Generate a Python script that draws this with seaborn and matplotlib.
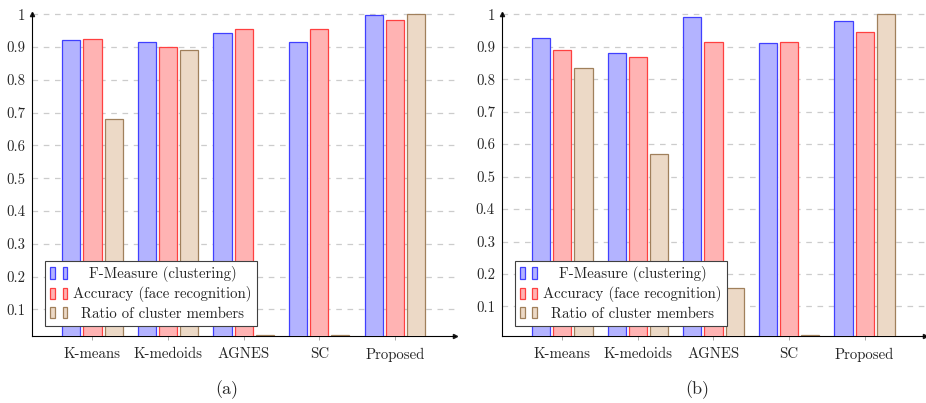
import pandas as pd
import seaborn as sns
from matplotlib import pyplot as plt
from matplotlib.patches import Patch
from matplotlib.legend_handler import HandlerTuple

methods = ["K-means", "K-medoids", "AGNES", "SC", "Proposed"]
series = ["F-Measure (clustering)", "Accuracy (face recognition)", "Ratio of cluster members"]

# panel (a)
fmeasure_a = [0.923, 0.915, 0.944, 0.914, 0.997]
accuracy_a = [0.924, 0.899, 0.954, 0.956, 0.984]
ratio_a = [0.681, 0.892, 0.021, 0.021, 1.0]

# panel (b)
fmeasure_b = [0.928, 0.881, 0.992, 0.910, 0.979]
accuracy_b = [0.890, 0.868, 0.914, 0.916, 0.946]
ratio_b = [0.833, 0.570, 0.158, 0.011, 1.0]

yticks = [0.1, 0.2, 0.3, 0.4, 0.5, 0.6, 0.7, 0.8, 0.9, 1.0]
ytick_labels = ["0.1", "0.2", "0.3", "0.4", "0.5", "0.6", "0.7", "0.8", "0.9", "1"]

fills = ["#b3b3ff", "#ffb3b3", "#ecd9c6"]
edges = ["#4040ff", "#ff4040", "#a0805c"]

sns.set_theme(style="white")
plt.rcParams['font.family'] = ['cmr10', 'DejaVu Serif']
plt.rcParams['axes.formatter.use_mathtext'] = True
plt.rcParams['font.size'] = 10.7


def make_df(f, a, r):
    rows = []
    for vals, name in zip([f, a, r], series):
        for m, v in zip(methods, vals):
            rows.append({"method": m, "value": v, "series": name})
    return pd.DataFrame(rows)


fig = plt.figure(figsize=(9.26, 4.03), dpi=100)
ax_a = fig.add_axes([0.0346, 0.1655, 0.457, 0.8015])
ax_b = fig.add_axes([0.542, 0.1655, 0.457, 0.8015])

panels = [(ax_a, make_df(fmeasure_a, accuracy_a, ratio_a), 0.018, "(a)", 0.245),
          (ax_b, make_df(fmeasure_b, accuracy_b, ratio_b), 0.008, "(b)", 0.753)]

legends = []
for ax, df, ymin, cap, capx in panels:
    sns.barplot(data=df, x="method", y="value", hue="series", order=methods,
                hue_order=series, palette=fills, saturation=1, width=0.84, gap=0.14,
                linewidth=0.9, ax=ax, legend=False, zorder=3)
    for cont, ec in zip(ax.containers, edges):
        for p in cont:
            p.set_edgecolor(ec)
    ax.set_xlim(-0.8, 4.8)
    ax.set_ylim(ymin, 1.003)
    ax.set_yticks(yticks)
    ax.set_yticklabels(ytick_labels)
    ax.set_xlabel("")
    ax.set_ylabel("")
    for y in yticks:
        ax.axhline(y, color="#cccccc", lw=0.9, ls=(0, (4.5, 4.5)), zorder=1)
    ax.tick_params(axis="y", length=0, pad=5, labelsize=10.7)
    ax.tick_params(axis="x", length=3, width=0.6, color="#999999", pad=5,
                   labelsize=10.7, bottom=True)
    for s in ["top", "right"]:
        ax.spines[s].set_visible(False)
    for s in ["left", "bottom"]:
        ax.spines[s].set_color("black")
        ax.spines[s].set_linewidth(0.8)
    ax.plot(1, ymin, ">k", transform=ax.get_yaxis_transform(), clip_on=False, markersize=3)
    ax.plot(-0.8, 1.0, "^k", transform=ax.transData, clip_on=False, markersize=3)

    handles = [(Patch(fc=fc, ec=ec, lw=0.9), Patch(fc=fc, ec=ec, lw=0.9))
               for fc, ec in zip(fills, edges)]
    leg = ax.legend(handles, series, handler_map={tuple: HandlerTuple(ndivide=None, pad=0.5)},
                    loc="lower left", bbox_to_anchor=(0.031, 0.032), borderaxespad=0,
                    handlelength=1.15, handleheight=0.8, handletextpad=0.4,
                    labelspacing=0.3, borderpad=0.35, fancybox=False,
                    edgecolor="#404040", framealpha=1, fontsize=10.7)
    leg.get_frame().set_linewidth(0.8)
    leg.set_zorder(5)
    legends.append(leg)
    fig.text(capx, 0.022, cap, ha="center", va="baseline", fontsize=13)

# centre the legend labels like pgfplots does
fig.canvas.draw()
renderer = fig.canvas.get_renderer()
for leg in legends:
    texts = leg.get_texts()
    widths = [t.get_window_extent(renderer).width for t in texts]
    wmax = max(widths)
    for t, w in zip(texts, widths):
        t.set_position(((wmax - w) / 2, 0))

fig.savefig("out.png", dpi=100)
